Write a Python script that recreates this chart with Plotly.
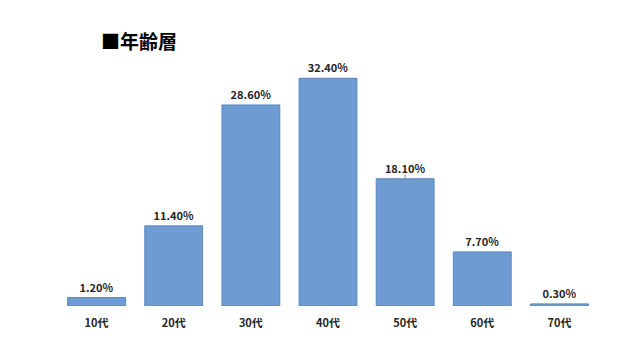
import plotly.graph_objects as go

categories = ["10代", "20代", "30代", "40代", "50代", "60代", "70代"]
values = [1.2, 11.4, 28.6, 32.4, 18.1, 7.7, 0.3]
labels = [f"{v:.2f}%" for v in values]
title_text = "■年齢層"

FONT = "Noto Sans CJK JP, Noto Sans, sans-serif"

fig = go.Figure(go.Bar(
    x=categories, y=values,
    text=labels, textposition="outside",
    textfont=dict(family=FONT, size=11, color="#262626", weight="bold"),
    cliponaxis=False,
    marker=dict(color="#6e9bd1", line=dict(color="#5a87c0", width=1)),
))

# leader line for the 50代 label
fig.add_annotation(x=categories[4], y=values[4], text="", showarrow=True,
                   arrowhead=0, arrowwidth=1, arrowcolor="#8c8c8c", ax=0, ay=-6)

fig.add_annotation(text=title_text, xref="paper", yref="paper", x=0.075, y=1.015,
                   xanchor="left", yanchor="bottom", showarrow=False,
                   font=dict(family=FONT, size=19, color="#000000", weight="bold"))

fig.update_layout(
    width=625, height=352,
    margin=dict(l=58, r=27, t=60, b=46),
    paper_bgcolor="white", plot_bgcolor="white",
    bargap=0.25, showlegend=False,
    xaxis=dict(showline=False, ticks="", showgrid=False, ticklabelstandoff=9,
               tickfont=dict(family=FONT, size=11, color="#262626", weight="bold")),
    yaxis=dict(range=[0, 35], visible=False, showgrid=False),
)

fig.write_html("out.html")
